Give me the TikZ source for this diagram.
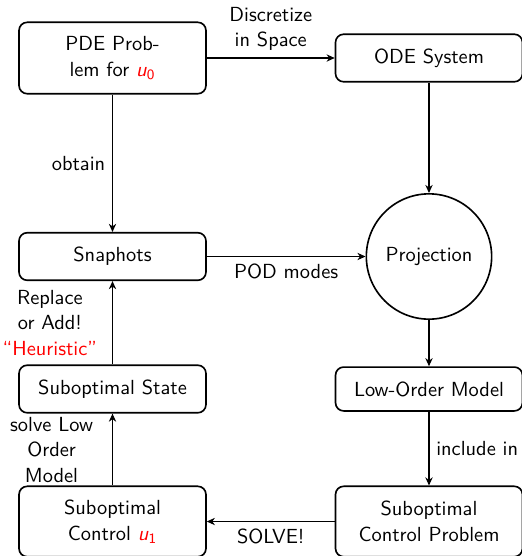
\documentclass[tikz,border=0pt]{standalone}
\usetikzlibrary{arrows.meta}
\begin{document}
\begin{tikzpicture}[x=0.49pt,y=-0.49pt,
  font=\sffamily\fontsize{10}{12.5}\selectfont,
  box/.style={draw, line width=0.8pt, rounded corners=4pt, align=center,
    inner sep=2pt, minimum width=91.6pt},
  flow/.style={-{Stealth[length=4pt,width=3.6pt]}, line width=0.5pt},
  lbl/.style={align=center, inner sep=3.33pt}]
\useasboundingbox (0,0) rectangle (522,556);

% left column
\node[box, minimum height=35pt] (pde) at (112.5,58)
  {PDE Prob-\\lem for \textcolor{red}{\textit{u}\textsubscript{0}}};
\node[box, minimum height=23.3pt] (snap) at (112.5,256.5) {Snaphots};
\node[box, minimum height=23.3pt] (state) at (112.5,389) {Suboptimal State};
\node[box, minimum height=34.5pt] (ctrl) at (112.5,521.5)
  {Suboptimal\\Control \textcolor{red}{\textit{u}\textsubscript{1}}};

% right column
\node[box, minimum height=23.3pt] (ode) at (429,58) {ODE System};
\node[draw, circle, line width=0.8pt, minimum size=61.4pt, inner sep=0pt]
  (proj) at (429,256.5) {Projection};
\node[box, minimum height=21.5pt] (low) at (429,389) {Low-Order Model};
\node[box, minimum height=34.5pt] (prob) at (429,521.5)
  {Suboptimal\\Control Problem};

% connectors
\draw[flow] (pde) -- (ode)
  node[midway, above, lbl] {Discretize\\in Space};
\draw[flow] (pde) -- (snap)
  node[midway, left, lbl] {obtain};
\draw[flow] (ode) -- (proj);
\draw[flow] (snap) -- (proj)
  node[midway, below, lbl] {POD modes};
\draw[flow] (proj) -- (low);
\draw[flow] (low) -- (prob)
  node[midway, right, lbl] {include in};
\draw[flow] (prob) -- (ctrl)
  node[midway, below, lbl] {SOLVE!};
\draw[flow] (ctrl) -- (state)
  node[midway, left, lbl, xshift=-6pt] {solve Low\\Order\\Model};
\draw[flow] (state) -- (snap)
  node[midway, left, lbl, xshift=-4pt] {Replace\\or Add!\\\textcolor{red}{``Heuristic''}};
\end{tikzpicture}
\end{document}
